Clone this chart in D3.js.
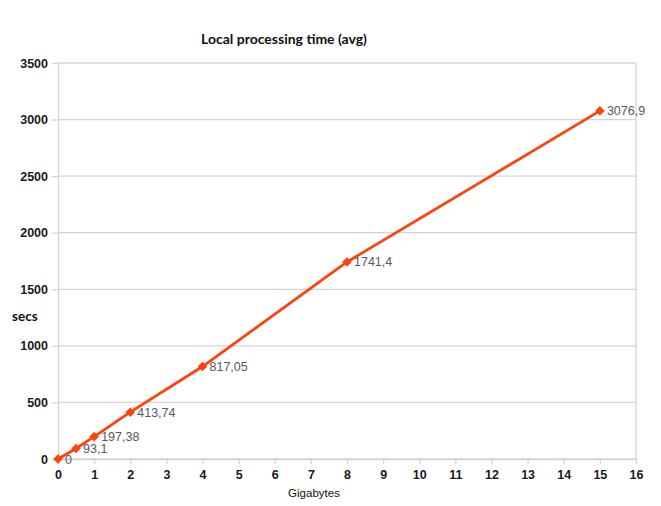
<!DOCTYPE html>
<html>
<head>
<meta charset="utf-8">
<script src="https://cdn.jsdelivr.net/npm/d3@7"></script>
<style>
  body { margin: 0; background: #fff; }
  .grid line, .axis path, .axis line { stroke: #d4d4d4; }
  .tick text { font-family: "Liberation Sans", Arial, sans-serif; font-weight: bold; font-size: 12.5px; fill: #1a1a1a; }
</style>
</head>
<body>
<div id="chart"></div>
<script>
// data
var gigabytes = [0, 0.5, 1, 2, 4, 8, 15];
var secs = [0, 93.1, 197.38, 413.74, 817.05, 1741.4, 3076.9];
var pointLabels = ["0", "93,1", "197,38", "413,74", "817,05", "1741,4", "3076,9"];
var xTicks = [0, 1, 2, 3, 4, 5, 6, 7, 8, 9, 10, 11, 12, 13, 14, 15, 16];
var yTicks = [0, 500, 1000, 1500, 2000, 2500, 3000, 3500];

var svgWidth = 661;
var svgHeight = 506;

var margin = { top: 63, right: 25, bottom: 47, left: 58 };
var width = 636 - margin.left;
var height = 459 - margin.top;

var svg = d3.select("#chart")
  .append("svg")
  .attr("width", svgWidth)
  .attr("height", svgHeight);

var chartGroup = svg.append("g")
  .attr("transform", `translate(${margin.left}, ${margin.top})`);

var xScale = d3.scaleLinear().domain([0, 16]).range([0, width]);
var yScale = d3.scaleLinear().domain([0, 3500]).range([height, 0]);

// horizontal grid lines
chartGroup.append("g")
  .attr("class", "grid")
  .selectAll("line")
  .data(yTicks)
  .enter()
  .append("line")
  .attr("x1", 0)
  .attr("x2", width)
  .attr("y1", d => yScale(d))
  .attr("y2", d => yScale(d))
  .attr("stroke-width", 1.3);

// right border
chartGroup.append("line")
  .attr("x1", width).attr("x2", width)
  .attr("y1", 0).attr("y2", height)
  .attr("stroke", "#d4d4d4")
  .attr("stroke-width", 1.3);

var bottomAxis = d3.axisBottom(xScale).tickValues(xTicks).tickFormat(d3.format("d"))
  .tickSize(5).tickPadding(6).tickSizeOuter(0);
var leftAxis = d3.axisLeft(yScale).tickValues(yTicks).tickFormat(d3.format("d"))
  .tickSize(6).tickPadding(4).tickSizeOuter(0);

chartGroup.append("g")
  .attr("class", "axis")
  .attr("transform", `translate(0, ${height})`)
  .call(bottomAxis)
  .selectAll("path, line").attr("stroke-width", 1.3);

chartGroup.append("g")
  .attr("class", "axis")
  .call(leftAxis)
  .selectAll("path, line").attr("stroke-width", 1.3);

var points = gigabytes.map((g, i) => ({ x: g, y: secs[i], label: pointLabels[i] }));

var line = d3.line()
  .x(d => xScale(d.x))
  .y(d => yScale(d.y));

chartGroup.append("path")
  .datum(points)
  .attr("d", line)
  .attr("fill", "none")
  .attr("stroke", "#ff420e")
  .attr("stroke-width", 2.8);

chartGroup.selectAll(".marker")
  .data(points)
  .enter()
  .append("path")
  .attr("class", "marker")
  .attr("d", d3.symbol().type(d3.symbolSquare).size(46))
  .attr("transform", d => `translate(${xScale(d.x)}, ${yScale(d.y)}) rotate(45)`)
  .attr("fill", "#ff420e");

chartGroup.selectAll(".value")
  .data(points)
  .enter()
  .append("text")
  .attr("class", "value")
  .attr("x", d => xScale(d.x) + 7)
  .attr("y", d => yScale(d.y) + 4.5)
  .style("font-family", "'Liberation Sans', Arial, sans-serif")
  .style("font-size", "12.5px")
  .style("fill", "#555a60")
  .text(d => d.label);

// titles
svg.append("text")
  .attr("x", 284)
  .attr("y", 44)
  .attr("text-anchor", "middle")
  .style("font-family", "Lato, 'Open Sans', sans-serif")
  .style("font-weight", "bold")
  .style("font-size", "14px")
  .style("fill", "#111")
  .text("Local processing time (avg)");

svg.append("text")
  .attr("x", 12)
  .attr("y", 321)
  .style("font-family", "Lato, 'Open Sans', sans-serif")
  .style("font-weight", "bold")
  .style("font-size", "13.5px")
  .style("fill", "#111")
  .text("secs");

svg.append("text")
  .attr("x", 314)
  .attr("y", 497)
  .attr("text-anchor", "middle")
  .style("font-family", "'Liberation Sans', Arial, sans-serif")
  .style("font-size", "11.5px")
  .style("fill", "#111")
  .text("Gigabytes");
</script>
</body>
</html>
